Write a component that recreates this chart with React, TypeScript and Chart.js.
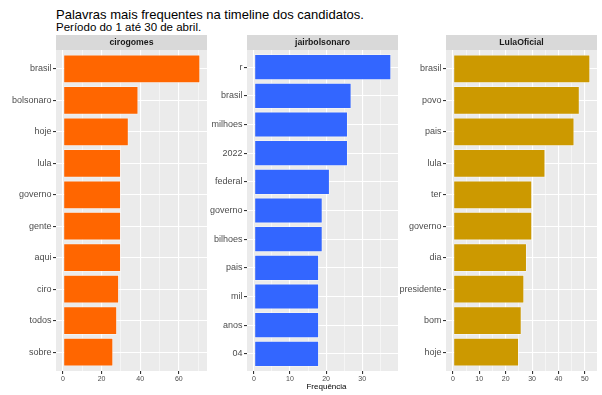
import React, { useEffect, useRef } from "react";
import { Chart, registerables } from "chart.js";

Chart.register(...registerables);

const TITLE = "Palavras mais frequentes na timeline dos candidatos.";
const SUBTITLE = "Período do 1 até 30 de abril.";
const X_TITLE = "Frequência";

const ciroLabel = "cirogomes";
const ciroWords = ["brasil", "bolsonaro", "hoje", "lula", "governo", "gente", "aqui", "ciro", "todos", "sobre"];
const ciroCounts = [71, 39, 34, 30, 30, 30, 30, 29, 28, 26];
const ciroMajor = [0, 20, 40, 60];
const ciroMinor = [10, 30, 50, 70];

const jairLabel = "jairbolsonaro";
const jairWords = ["r", "brasil", "milhoes", "2022", "federal", "governo", "bilhoes", "pais", "mil", "anos", "04"];
const jairCounts = [38, 27, 26, 26, 21, 19, 19, 18, 18, 18, 18];
const jairMajor = [0, 10, 20, 30];
const jairMinor = [5, 15, 25, 35];

const lulaLabel = "LulaOficial";
const lulaWords = ["brasil", "povo", "pais", "lula", "ter", "governo", "dia", "presidente", "bom", "hoje"];
const lulaCounts = [52, 48, 46, 35, 30, 30, 28, 27, 26, 25];
const lulaMajor = [0, 10, 20, 30, 40, 50];
const lulaMinor = [5, 15, 25, 35, 45];

const FONT = "'Liberation Sans', Arial, Helvetica, sans-serif";

type PanelProps = {
  label: string;
  words: string[];
  counts: number[];
  major: number[];
  minor: number[];
  color: string;
  left: number;
};

function Panel({ label, words, counts, major, minor, color, left }: PanelProps) {
  const ref = useRef<HTMLCanvasElement | null>(null);
  useEffect(() => {
    if (!ref.current) return;
    const n = words.length;
    const maxV = Math.max(...counts);
    const data = counts.map((v, i) => ({ x: v, y: i }));
    const allTicks = [...major, ...minor].sort((a, b) => a - b);
    const isMajor = (v: number) => major.includes(v);

    const panelPlugin = {
      id: "panelBg",
      beforeDraw(chart: any) {
        const { ctx, chartArea } = chart;
        ctx.save();
        ctx.fillStyle = "#EBEBEB";
        ctx.fillRect(chartArea.left, chartArea.top, chartArea.right - chartArea.left, chartArea.bottom - chartArea.top);
        ctx.fillStyle = "#D9D9D9";
        ctx.fillRect(chartArea.left, chartArea.top - 15, chartArea.right - chartArea.left, 15);
        ctx.fillStyle = "#1A1A1A";
        ctx.font = `bold 8.7px ${FONT}`;
        ctx.textAlign = "center";
        ctx.textBaseline = "middle";
        ctx.fillText(label, (chartArea.left + chartArea.right) / 2, chartArea.top - 7.5);
        ctx.restore();
      },
    };

    const chart = new Chart(ref.current, {
      type: "bar",
      data: {
        datasets: [
          {
            data,
            backgroundColor: color,
            borderColor: "rgba(255,255,255,0.6)",
            borderWidth: 0.8,
            borderSkipped: false,
            barPercentage: 0.9,
            categoryPercentage: 1,
          },
        ],
      },
      options: {
        indexAxis: "y",
        animation: false,
        responsive: false,
        maintainAspectRatio: false,
        layout: { padding: { top: 15, left: 0, right: 0, bottom: 0 } },
        plugins: {
          legend: { display: false },
          tooltip: { enabled: false },
        },
        scales: {
          x: {
            type: "linear",
            offset: false,
            min: -0.05 * maxV,
            max: 1.05 * maxV,
            afterBuildTicks: (s: any) => {
              s.ticks = allTicks.map((v) => ({ value: v }));
            },
            afterFit: (s: any) => {
              s.height = 24;
            },
            border: { display: false },
            grid: {
              offset: false,
              color: "#FFFFFF",
              lineWidth: (ctx: any) => (ctx.tick && isMajor(ctx.tick.value) ? 1.1 : 0.5),
              tickLength: 3,
              tickColor: (ctx: any) => (ctx.tick && isMajor(ctx.tick.value) ? "#333333" : "rgba(0,0,0,0)"),
            },
            ticks: {
              autoSkip: false,
              maxRotation: 0,
              padding: 1,
              color: "#4D4D4D",
              font: { family: FONT, size: 7 },
              callback: (v: any) => (isMajor(Number(v)) ? String(v) : ""),
            },
          },
          y: {
            type: "linear",
            offset: false,
            reverse: true,
            min: -0.6,
            max: n - 1 + 0.6,
            afterBuildTicks: (s: any) => {
              s.ticks = words.map((_, i) => ({ value: i }));
            },
            afterFit: (s: any) => {
              s.width = 56;
            },
            border: { display: false },
            grid: {
              offset: false,
              color: "#FFFFFF",
              lineWidth: 1.1,
              tickLength: 3,
              tickColor: "#333333",
            },
            ticks: {
              autoSkip: false,
              padding: 1.5,
              color: "#4D4D4D",
              font: { family: FONT, size: 9 },
              callback: (v: any) => words[Number(v)] ?? "",
            },
          },
        },
      },
      plugins: [panelPlugin],
    } as any);
    return () => chart.destroy();
  }, [label, words, counts, major, minor, color]);

  return (
    <canvas
      ref={ref}
      width={207}
      height={360}
      style={{ position: "absolute", left, top: 35, width: 207, height: 360 }}
    />
  );
}

export default function App() {
  return (
    <div
      style={{
        position: "fixed",
        left: 0,
        top: 0,
        width: 602,
        height: 395,
        background: "#FFFFFF",
        fontFamily: FONT,
        overflow: "hidden",
      }}
    >
      <div style={{ position: "absolute", left: 56, top: 6.5, fontSize: 13, lineHeight: "15px", color: "#000", whiteSpace: "nowrap" }}>
        {TITLE}
      </div>
      <div style={{ position: "absolute", left: 56, top: 21.2, fontSize: 11.5, lineHeight: "13px", color: "#000", whiteSpace: "nowrap" }}>
        {SUBTITLE}
      </div>
      <Panel label={ciroLabel} words={ciroWords} counts={ciroCounts} major={ciroMajor} minor={ciroMinor} color="#FF6600" left={0} />
      <Panel label={jairLabel} words={jairWords} counts={jairCounts} major={jairMajor} minor={jairMinor} color="#3366FF" left={191} />
      <Panel label={lulaLabel} words={lulaWords} counts={lulaCounts} major={lulaMajor} minor={lulaMinor} color="#CC9900" left={390} />
      <div
        style={{
          position: "absolute",
          left: 56,
          width: 541,
          top: 381.5,
          textAlign: "center",
          fontSize: 8,
          lineHeight: "10px",
          color: "#000",
        }}
      >
        {X_TITLE}
      </div>
    </div>
  );
}
